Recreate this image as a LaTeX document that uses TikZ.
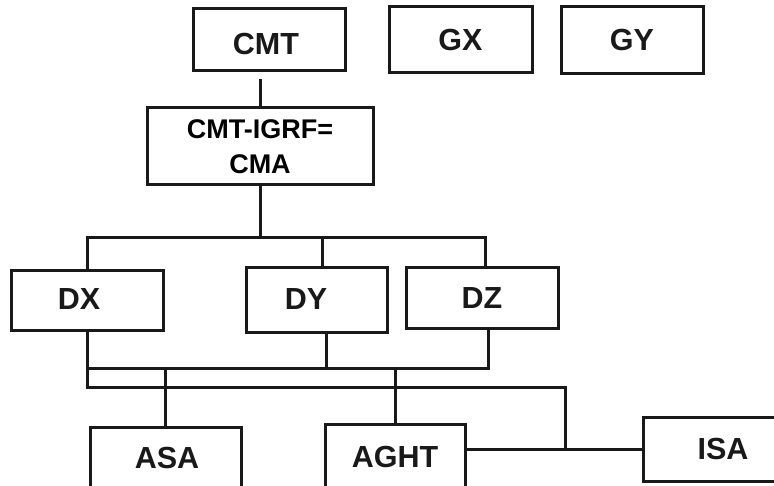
\documentclass[tikz,border=0pt]{standalone}
\usepackage{fontspec}
\setmainfont{Liberation Sans}
\begin{document}
\begin{tikzpicture}[x=1pt,y=-1pt,
  box/.style={draw=black!90, line width=3pt, rectangle, inner sep=0pt},
  lbl/.style={font=\fontsize{30.5}{34}\selectfont\bfseries, text=black!90, inner sep=0pt},
  conn/.style={draw=black!90, line width=3pt}]
\useasboundingbox (0,0) rectangle (774,486);
\clip (0,0) rectangle (774,486);
% top row
\node[box, minimum width=152, minimum height=62] (cmt) at (269,40) {};
\node[lbl] (tcmt) at (266,44) {CMT};
\node[box, minimum width=143, minimum height=66, lbl] (gx) at (460.5,40) {GX};
\node[box, minimum width=142, minimum height=67, lbl] (gy) at (632,40.5) {GY};
% CMA
\node[box, minimum width=226, minimum height=77, align=center,
  font=\fontsize{27}{35}\selectfont\bfseries] (cma) at (260,146.5) {CMT-IGRF=\\CMA};
% D row
\node[box, minimum width=152, minimum height=60] (dx) at (87,301) {};
\node[lbl] (tdx) at (79,299) {DX};
\node[box, minimum width=141, minimum height=65] (dy) at (316.5,300.5) {};
\node[lbl] (tdy) at (306,299) {DY};
\node[box, minimum width=152, minimum height=61, lbl] (dz) at (482,298.5) {DZ};
% bottom row (clipped at the picture edge)
\node[box, minimum width=151, minimum height=70] (asa) at (165.5,462) {};
\node[lbl] (tasa) at (167,457.5) {ASA};
\node[box, minimum width=140, minimum height=70] (aght) at (395,459) {};
\node[lbl] (taght) at (395,457) {AGHT};
\node[box, minimum width=140, minimum height=64] (isa) at (713,449) {};
\node[lbl] (tisa) at (723,449) {ISA};
% bus coordinates
\coordinate (tb) at (0,238);
\coordinate (b1) at (0,369);
\coordinate (b2) at (0,387);
\coordinate (dyt) at ([xshift=5.5pt]dy.north);
\coordinate (dzt) at ([xshift=3pt]dz.north);
\coordinate (dyb) at ([xshift=9.5pt]dy.south);
\coordinate (dzb) at ([xshift=6pt]dz.south);
\coordinate (isj) at (565,0);
% connectors
\draw[conn] ([yshift=-7pt]cmt.south -| cma.north) -- (cma.north);
\draw[conn] (cma.south) -- (cma.south |- tb);
\draw[conn] (dx.north) |- (dzt |- tb) -- (dzt);
\draw[conn] (dyt) -- (dyt |- tb);
\draw[conn] (dx.south) |- (dzb |- b1) -- (dzb);
\draw[conn] (dyb) -- (dyb |- b1);
\draw[conn] (dx.south |- b1) |- (isj |- b2) -- (isj |- isa.west);
\draw[conn] (asa.north) -- (asa.north |- b1);
\draw[conn] (aght.north) -- (aght.north |- b1);
\draw[conn] (isa.west) -- (isa.west -| aght.east);
\end{tikzpicture}
\end{document}
